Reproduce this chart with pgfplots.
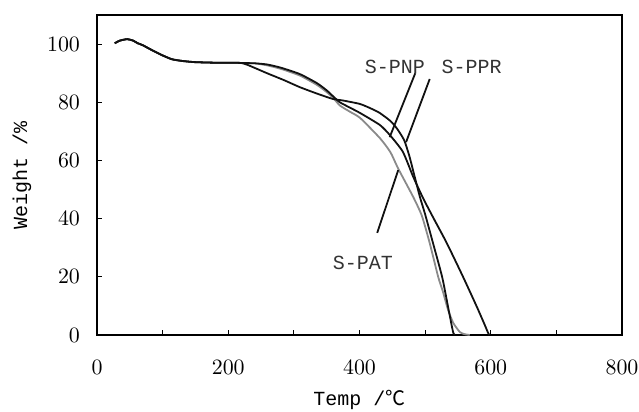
\documentclass[border=0pt]{standalone}
\usepackage{fontspec}
\setmonofont{Liberation Mono}
\newfontfamily\cjk{Noto Sans CJK SC}
\usepackage{pgfplots}
\pgfplotsset{compat=1.18}

\definecolor{tgaBlack}{HTML}{111111}
\definecolor{tgaGray}{HTML}{8A8A8A}

\begin{document}
\begin{tikzpicture}
\useasboundingbox (-48.5pt,-38.5pt) rectangle (271pt,167.5pt);
\begin{axis}[
	scale only axis,
	width=262.5pt,
	height=160pt,
	xmin=0,xmax=800,
	ymin=0,ymax=110,
	xtick={0,200,...,800},
	minor xtick={100,300,500,700},
	ytick={0,20,...,100},
	xtick pos=bottom,
	ytick pos=left,
	tick align=inside,
	major tick length=2.5pt,
	minor tick length=2.5pt,
	every tick/.style={black,line width=0.5pt},
	axis line style={black,line width=1pt},
	tick label style={font=\fontsize{11}{13}\selectfont},
	xticklabel style={yshift=-9pt},
	yticklabel style={xshift=-5pt},
	xlabel={\ttfamily Temp /{\cjk ℃}},
	ylabel={\ttfamily Weight /\%},
	label style={font=\fontsize{10}{12}\selectfont},
	xlabel style={at={(axis description cs:0.5,0)},anchor=center,yshift=-32.5pt},
	ylabel style={at={(axis description cs:0,0.5)},anchor=center,rotate=0,yshift=37.5pt},
	every axis plot/.append style={line width=0.9pt,no marks,smooth,tension=0.35},
	clip=false,
]

% S-PAT (gray)
\addplot[tgaGray] coordinates {
	(27,100.3) (35,101.2) (46,101.7) (55,101.2) (62,100.3) (70,99.6) (78,98.6)
	(90,97.2) (99,96.2) (114,94.8) (130,94.2) (149,93.8) (180,93.6) (210,93.6)
	(220,93.5) (240,93.4) (259,92.7) (280,91.5) (309,89.2) (335,86.0) (350,83.5)
	(360,81.5) (370,78.9) (385,76.8) (401,74.6) (431,67.7) (447,62.9) (459,57.2)
	(482,47.4) (495,41.0) (507,31.6) (520,19.9) (527,15.0) (535,8.6) (543,4.1)
	(553,1.0) (560,0.3) (568,0)
};

% S-PNP
\addplot[tgaBlack] coordinates {
	(27,100.3) (35,101.2) (46,101.7) (55,101.2) (62,100.3) (70,99.6) (78,98.6)
	(90,97.2) (99,96.2) (114,94.8) (130,94.2) (149,93.8) (180,93.6) (210,93.6)
	(220,93.5) (240,93.4) (259,93.0) (280,91.9) (309,89.7) (335,86.6) (350,84.1)
	(360,82.0) (370,80.0) (385,78.2) (401,76.3) (431,72.2) (446,68.8) (466,63.0)
	(482,54.3) (497,47.0) (512,40.5) (533,31.6) (558,19.9) (579,9.6) (591,3.4)
	(596,0.7) (598,0)
};

% S-PPR
\addplot[tgaBlack] coordinates {
	(27,100.3) (35,101.2) (46,101.7) (55,101.2) (62,100.3) (70,99.6) (78,98.6)
	(90,97.2) (99,96.2) (114,94.8) (130,94.2) (149,93.8) (180,93.6) (210,93.6)
	(220,93.5) (230,92.8) (259,90.0) (285,87.6) (309,85.2) (335,83.0) (360,81.1)
	(375,80.6) (401,79.4) (420,77.6) (431,76.3) (447,73.6) (457,71.0) (468,67.0)
	(476,61.5) (484,54.5) (492,47.5) (500,41.5) (512,31.6) (526,19.9) (535,9.6)
	(541,2.7) (543,0.7) (545,0)
};

% labels with leader lines
\draw[tgaBlack,line width=0.9pt] (axis cs:485,90) -- (axis cs:446,68);
\draw[tgaBlack,line width=0.9pt] (axis cs:507,88) -- (axis cs:471,66.3);
\draw[tgaBlack,line width=0.9pt] (axis cs:427,35.1) -- (axis cs:459,56.7);
\node[font=\ttfamily\fontsize{10}{12}\selectfont,text=black!80] at (axis cs:454,92.1) {S-PNP};
\node[font=\ttfamily\fontsize{10}{12}\selectfont,text=black!80] at (axis cs:571,92.1) {S-PPR};
\node[font=\ttfamily\fontsize{10}{12}\selectfont,text=black!80] at (axis cs:405,24.7) {S-PAT};

\end{axis}
\end{tikzpicture}
\end{document}
